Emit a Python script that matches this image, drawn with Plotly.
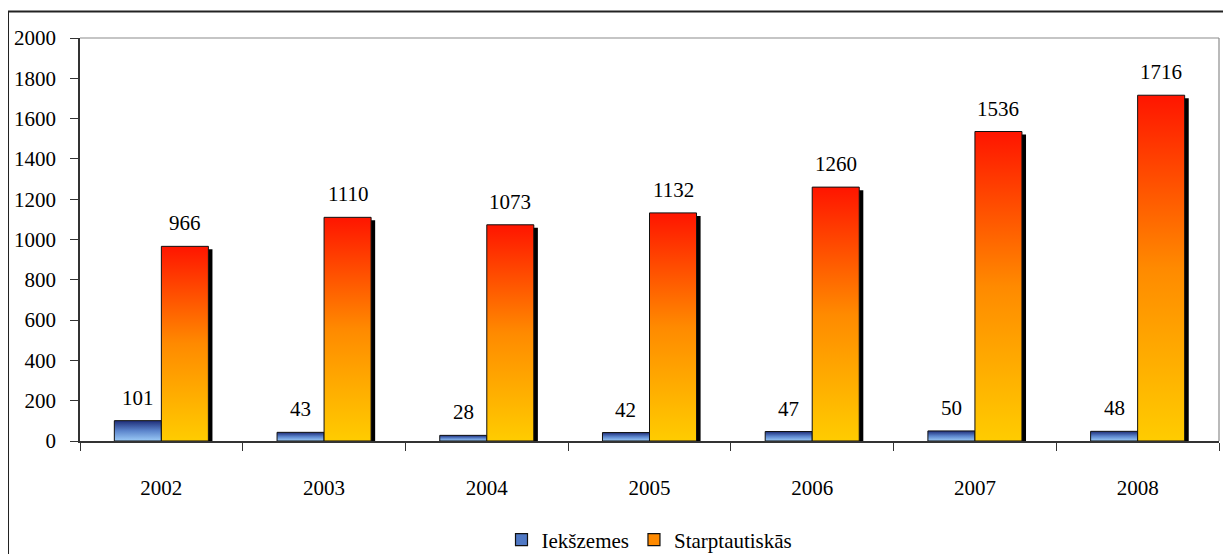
import plotly.graph_objects as go

years = ['2002', '2003', '2004', '2005', '2006', '2007', '2008']
iekszemes = [101, 43, 28, 42, 47, 50, 48]
starptautiskas = [966, 1110, 1073, 1132, 1260, 1536, 1716]

FONT = 'Liberation Serif, Times New Roman, Times, serif'
FS = 21
BAR_W = 0.289
SH_DX = 0.025   # shadow offset, category units
SH_DY = 15      # shadow offset, value units

blue_scale = [[0, '#9CCBF7'], [0.5, '#5C85CC'], [1, '#1E2D78']]
orange_scale = [[0, '#FFCC00'], [0.5, '#FF8A00'], [1, '#FF1500']]


def rect(x0, x1, top, bottom=0):
    return [x0, x1, x1, x0, x0], [bottom, bottom, top, top, bottom]


fig = go.Figure()

# shadows first so they sit behind the bars
for i, v in enumerate(starptautiskas):
    xs, ys = rect(i + SH_DX, i + BAR_W + SH_DX, v - SH_DY)
    fig.add_trace(go.Scatter(x=xs, y=ys, fill='toself', mode='lines',
                             fillcolor='black', line=dict(width=0, color='black'),
                             showlegend=False, hoverinfo='skip'))

series = [('Iekšzemes', iekszemes, blue_scale, -BAR_W, '#4F78C4'),
          ('Starptautiskās', starptautiskas, orange_scale, 0, '#FF8A00')]
for name, vals, scale, off, legcol in series:
    for i, v in enumerate(vals):
        xs, ys = rect(i + off, i + off + BAR_W, v)
        fig.add_trace(go.Scatter(
            x=xs, y=ys, fill='toself', mode='lines', name=name,
            legendgroup=name, showlegend=False,
            line=dict(width=1, color='#111111'),
            fillgradient=dict(type='vertical', colorscale=scale),
            hovertemplate=name + ' ' + years[i] + ': ' + str(v) + '<extra></extra>'))
        fig.add_annotation(x=i + off + BAR_W / 2, y=v, text=str(v), showarrow=False,
                           yshift=23, yanchor='middle',
                           font=dict(family=FONT, size=FS, color='black'))
    # legend swatch only
    fig.add_trace(go.Bar(x=[None], y=[None], name=name, legendgroup=name,
                         marker=dict(color=legcol, line=dict(color='#111111', width=1.2))))

# plot area border (top / right) and outer chart frame
fig.add_shape(type='line', xref='paper', yref='paper', x0=0, x1=1, y0=1, y1=1,
              line=dict(color='#8c8c8c', width=1.2))
fig.add_shape(type='line', xref='paper', yref='paper', x0=1, x1=1, y0=0, y1=1,
              line=dict(color='#8c8c8c', width=1.2))
fig.add_shape(type='rect', xref='paper', yref='paper', x0=-0.0632, x1=1.2,
              y0=-0.5, y1=1.0657, line=dict(color='#222222', width=2))

# page body has an 8px margin, so the figure is 8px smaller and margins shifted
fig.update_layout(
    width=1223, height=546,
    margin=dict(l=72, r=12, t=29.5, b=113, autoexpand=False),
    paper_bgcolor='white', plot_bgcolor='white',
    font=dict(family=FONT, size=FS, color='black'),
    showlegend=True,
    legend=dict(orientation='h', x=0.5, xanchor='center', xref='paper',
                y=14 / 546, yref='container', yanchor='middle',
                traceorder='normal', tracegroupgap=0,
                itemwidth=30, bgcolor='rgba(0,0,0,0)',
                font=dict(family=FONT, size=FS, color='black')),
    xaxis=dict(range=[-0.5, 6.5], tickmode='array', tickvals=list(range(len(years))),
               ticktext=years, ticks='', showgrid=False, zeroline=False,
               showline=True, linecolor='#333333', linewidth=1.5,
               ticklabelstandoff=27,
               tickfont=dict(family=FONT, size=FS, color='black'),
               minor=dict(tick0=-0.5, dtick=1, ticks='outside', ticklen=8,
                          tickcolor='#333333', tickwidth=1.2, showgrid=False)),
    yaxis=dict(range=[0, 2000], dtick=200, ticks='outside', ticklen=8,
               tickcolor='#333333', tickwidth=1.2, showgrid=False, zeroline=False,
               showline=True, linecolor='#333333', linewidth=1.5,
               tickfont=dict(family=FONT, size=FS, color='black'),
               ticklabelstandoff=10),
)

fig.write_html('out.html')
